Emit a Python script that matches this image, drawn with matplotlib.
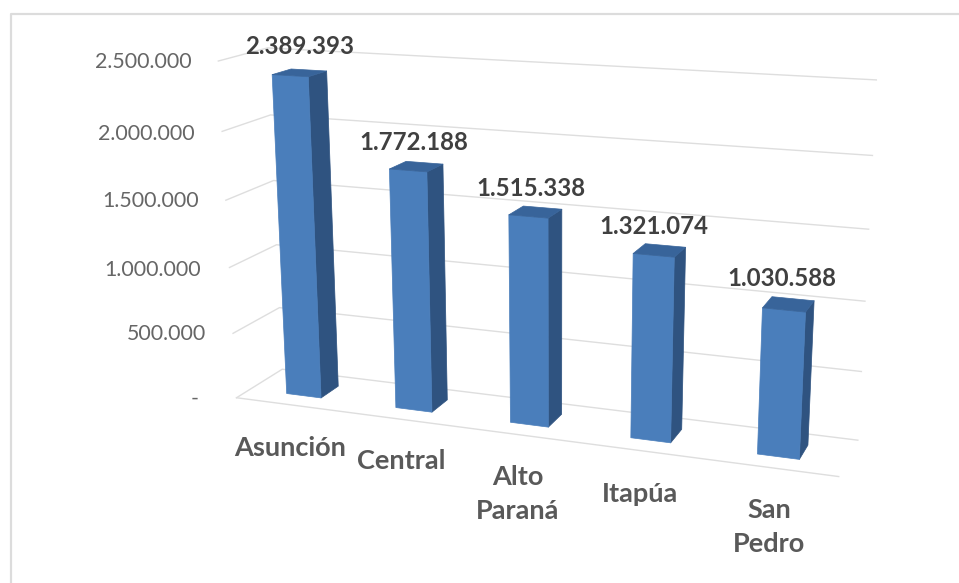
# Depto. poblacion - barras 3D

import matplotlib
matplotlib.use('Agg')
import matplotlib.pyplot as plt
import numpy as np
from matplotlib.lines import Line2D

categories = ['Asunción', 'Central', 'Alto\nParaná', 'Itapúa', 'San\nPedro']
values = [2389393, 1772188, 1515338, 1321074, 1030588]
ticks = [0, 500000, 1000000, 1500000, 2000000, 2500000]

W, H = 959, 583
BAR_W = 0.32
D0, D1 = 0.3, 0.7

# puntos de calibracion de la camara: (x, profundidad, valor en millones) -> pixel de la imagen
CAMERA_POINTS = [
    (0, 0, 0.0, 237, 398), (0, 0, 0.5, 232, 333), (0, 0, 1.0, 229, 268),
    (0, 0, 1.5, 226, 200), (0, 0, 2.0, 222, 132), (0, 0, 2.5, 218, 60.7),
    (0, 1, 0.0, 283, 370), (0, 1, 2.5, 268, 47),
    (5, 1, 0.0, 858, 440), (5, 1, 0.5, 862, 372), (5, 1, 1.0, 866, 301),
    (5, 1, 1.5, 868, 229), (5, 1, 2.0, 872, 155), (5, 1, 2.5, 876, 79),
    (5, 0, 0.0, 839, 477),
    (.34, .3, 0.0, 287, 393), (.66, .3, 0.0, 321, 397), (.34, .3, 2.389, 273, 75),
    (.66, .3, 2.389, 308, 77), (.66, .7, 0.0, 337, 386), (.66, .7, 2.389, 327, 71),
    (.34, .7, 2.389, 290, 70),
    (2.34, .3, 0.0, 511, 422), (2.66, .3, 0.0, 548, 427), (2.34, .3, 1.515, 510, 215),
    (2.66, .3, 1.515, 549, 218),
    (4.34, .3, 0.0, 757, 453), (4.66, .3, 0.0, 800, 459), (4.34, .3, 1.031, 763, 307),
    (4.66, .3, 1.031, 805, 313), (4.66, .7, 0.0, 807, 446), (4.66, .7, 1.031, 813, 302),
    (4.34, .7, 1.031, 772, 297),
]


def fit_camera():
    # DLT: matriz 3x4 de (x, prof, millones, 1) a pixeles/1000
    rows = []
    for x, d, v, px, py in CAMERA_POINTS:
        u, t = px / 1000, (H - py) / 1000
        rows.append([x, d, v, 1, 0, 0, 0, 0, -u * x, -u * d, -u * v, -u])
        rows.append([0, 0, 0, 0, x, d, v, 1, -t * x, -t * d, -t * v, -t])
    P = np.linalg.svd(np.array(rows, dtype=float))[2][-1].reshape(3, 4)
    if P[2] @ [2.5, 0.5, 1, 1] < 0:
        P = -P
    return np.diag([1000, 1000, 1]) @ P @ np.diag([1, 1, 1e-6, 1])


CAMERA = fit_camera()


def get_proj():
    # pasa de pixeles a las coordenadas 2D del eje 3D
    p = ax.transData.inverted().transform([[0, 0], [1, 1]])
    A = np.array([[p[1, 0] - p[0, 0], 0, p[0, 0]],
                  [0, p[1, 1] - p[0, 1], p[0, 1]],
                  [0, 0, 1]])
    P = A @ CAMERA
    return np.vstack([P[0], P[1], [0, 0, 0, -1], P[2]])


def text_px(x, y, s, **kw):
    fig.text(x / W, 1 - y / H, s, ha=kw.pop('ha', 'center'), va='center', **kw)


fig = plt.figure(figsize=(W / 100, H / 100), dpi=100)
ax = fig.add_axes([0, 0.5 - W / H / 2, 1, W / H], projection='3d')
ax.set_axis_off()
ax.computed_zorder = False
ax.get_proj = get_proj

# marco
fig.add_artist(Line2D([10.5 / W, 10.5 / W, 1], [0, 1 - 14 / H, 1 - 14 / H], color='#dcdcdc', lw=1.6))

# rejilla: pared izquierda + fondo, y borde frontal del piso
for t in ticks:
    ax.plot([0, 0, 5], [0, 1, 1], [t, t, t], color='#dedede', lw=1.0, zorder=1)
ax.plot([0, 5], [0, 0], [0, 0], color='#dedede', lw=1.0, zorder=1)

# caras: abajo, arriba, frente, atras, izq, der (las ocultas transparentes)
none = (0, 0, 0, 0)
face_colors = [none, '#38649a', '#4a7ebb', none, none, '#2f5380']
xs = np.arange(len(values)) + 0.5 - BAR_W / 2
ax.bar3d(xs, np.full(len(values), D0), np.zeros(len(values)),
         BAR_W, D1 - D0, values, color=face_colors * len(values),
         edgecolors=face_colors * len(values), linewidth=0.5,
         shade=False, zorder=2)

# etiquetas de valores
value_pos = [(300, 47), (414, 143), (531, 188), (653.5, 227), (782, 279)]
for v, (x, y) in zip(values, value_pos):
    text_px(x, y, f'{v:,}'.replace(',', '.'), family='Lato', weight='bold',
            size=17.3, color='#404040')

# etiquetas del eje de valores
tick_pos = [(199, 399), (206, 334), (201, 270), (198.5, 201), (195, 134), (192, 62)]
for t, (x, y) in zip(ticks, tick_pos):
    label = f'{t:,}'.replace(',', '.') if t else '-'
    text_px(x, y, label, ha='right', family='Lato', size=15.4, color='#666666')

# etiquetas de categorias
cat_pos = [(290, 448), (401.5, 461), (518, 494), (640, 494), (769, 526.5)]
for c, (x, y) in zip(categories, cat_pos):
    text_px(x, y, c, family='Lato', weight='bold', size=19.5, color='#595959',
            linespacing=1.5, multialignment='center')

plt.savefig('out.png', dpi=100)
